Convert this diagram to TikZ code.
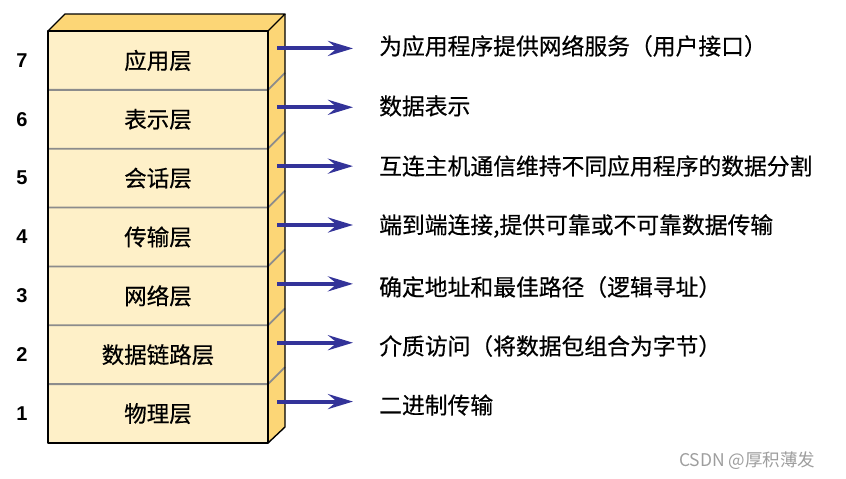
\documentclass[tikz,border=0pt]{standalone}
\usepackage{fontspec}
\setmainfont{Liberation Sans}
\newfontfamily\cjk{Noto Sans CJK SC}[FakeBold=0.5]
\newfontfamily\cjkplain{Noto Sans CJK SC}
\usetikzlibrary{arrows.meta}
\definecolor{frontc}{RGB}{254,240,200}
\definecolor{sidec}{RGB}{252,214,118}
\definecolor{arrc}{RGB}{51,51,153}
\definecolor{sepc}{RGB}{140,140,140}
\tikzset{
  layerbox/.style={rectangle, minimum width=220pt, minimum height=58.857pt, inner sep=0pt, outer sep=0pt, fill=frontc, font=\cjk\fontsize{22.5}{22.5}\selectfont},
  numlabel/.style={inner sep=0pt, font=\bfseries\fontsize{20}{20}\selectfont},
  desc/.style={anchor=west, inner sep=0pt, font=\cjk\fontsize{22.8}{22.8}\selectfont},
  arr/.style={draw=arrc, line width=4pt, -{Stealth[length=25pt, width=15pt, inset=9pt]}, shorten >=26pt},
  sepline/.style={draw=sepc, line width=1.8pt},
}
\begin{document}
\begin{tikzpicture}[x=1pt, y=-1pt]
\useasboundingbox (0,0) rectangle (846,479);
% top and side faces
\fill[sidec] (48,31) -- (65,14) -- (285,14) -- (268,31) -- cycle;
\fill[sidec] (268,31) -- (285,14) -- (285,427) -- (268,443) -- cycle;
% layers
\foreach \i/\name [count=\k from 0] in {7/应用层,6/表示层,5/会话层,4/传输层,3/网络层,2/数据链路层,1/物理层}{
  \node[layerbox] (L\i) at (158, {31+58.857*(\k+0.5)}) {\name};
  \node[numlabel] (N\i) at (22, {31+58.857*(\k+0.5)}) {\i};
}
% separators
\foreach \k in {1,...,6}{
  \draw[sepline] (48.5,{31+58.857*\k}) -- (268,{31+58.857*\k}) -- (285,{14+58.857*\k});
}
% outlines
\draw[line width=1.4pt, line join=round] (48,31) rectangle (268,443);
\draw[line width=1.4pt, line join=round] (48,31) -- (65,14) -- (285,14) -- (268,31);
\draw[line width=1.4pt, line join=round] (285,14) -- (285,427) -- (268,443);
% descriptions
\node[desc] (D7) at (379,46) {为应用程序提供网络服务（用户接口）};
\node[desc] (D6) at (379,106) {数据表示};
\node[desc] (D5) at (379,166) {互连主机通信维持不同应用程序的数据分割};
\node[desc] (D4) at (379,226) {端到端连接,提供可靠或不可靠数据传输};
\node[desc] (D3) at (379,287) {确定地址和最佳路径（逻辑寻址）};
\node[desc] (D2) at (379,346) {介质访问（将数据包组合为字节）};
\node[desc] (D1) at (379,405) {二进制传输};
% arrows
\foreach \i in {7,...,1}{
  \coordinate (S\i) at ([xshift=9pt, yshift=12pt]L\i.east);
  \draw[arr] (S\i) -- (S\i -| D\i.west);
}
% watermark
\node[inner sep=0pt, anchor=west, text=black!38, font=\cjkplain\fontsize{17.5}{17.5}\selectfont] (W) at (679,461) {CSDN @厚积薄发};
\end{tikzpicture}
\end{document}
